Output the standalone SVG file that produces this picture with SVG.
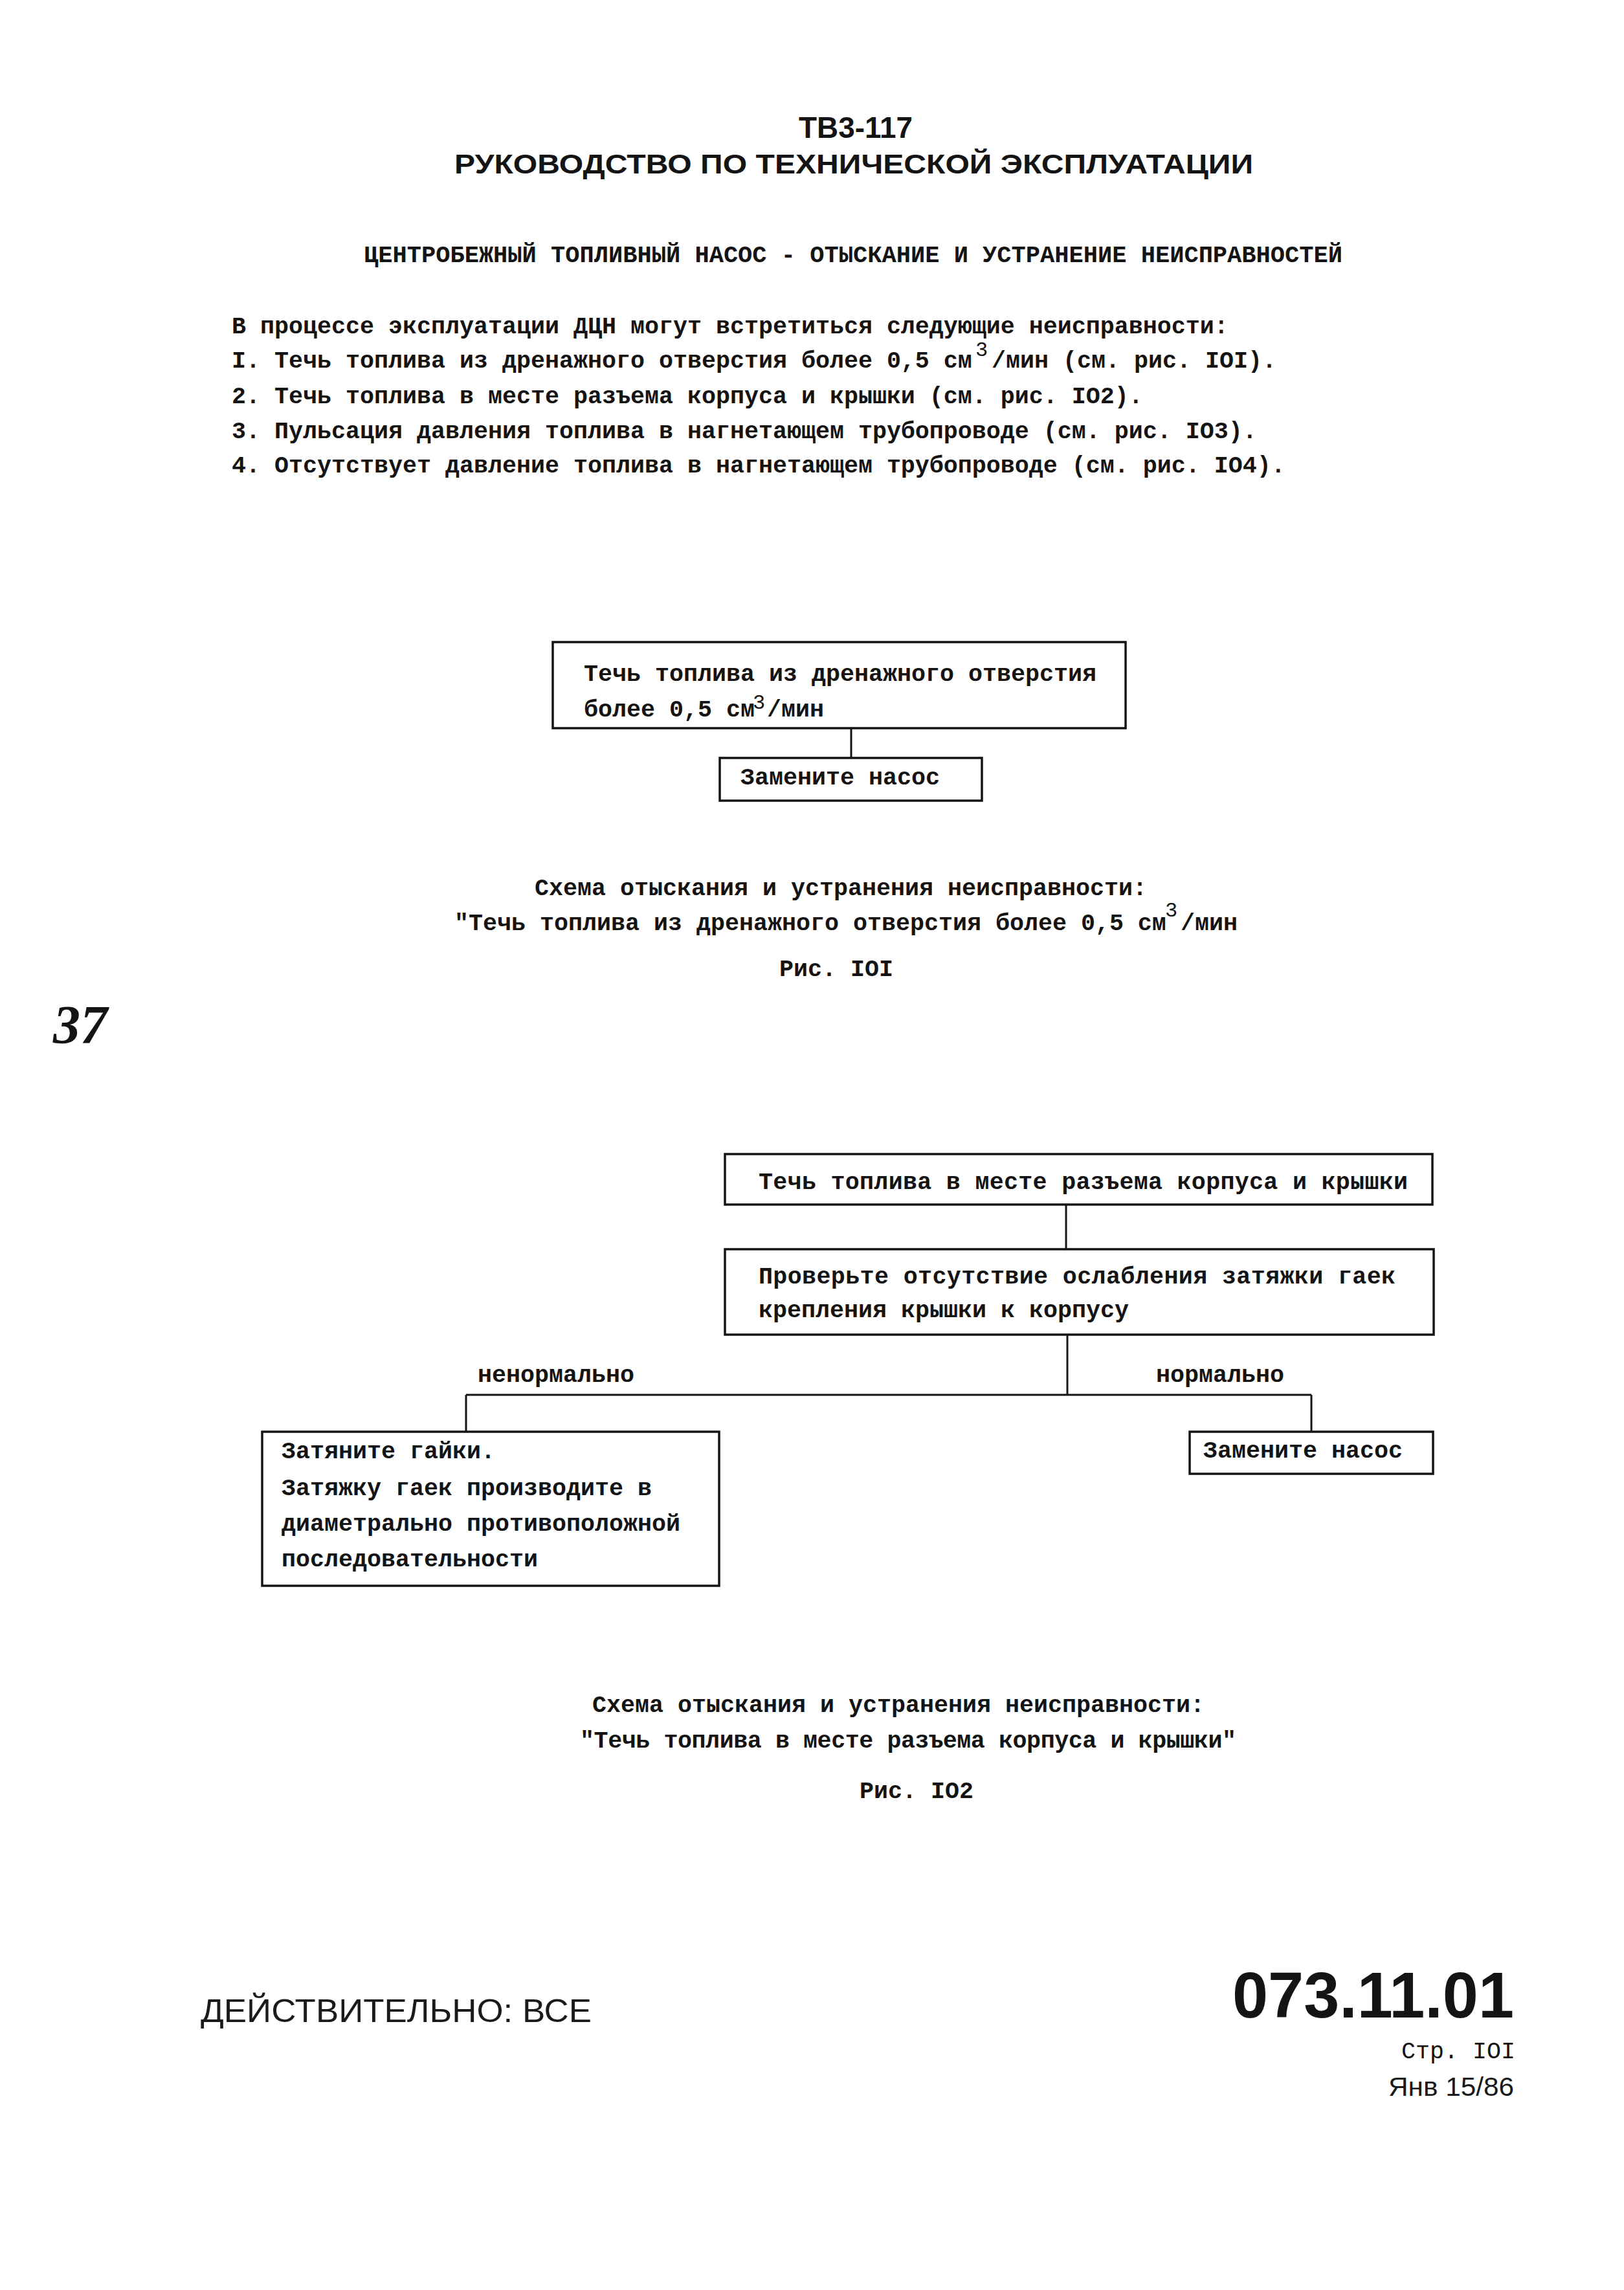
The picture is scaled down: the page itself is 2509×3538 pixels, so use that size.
<svg xmlns="http://www.w3.org/2000/svg" width="2509" height="3538" viewBox="0 0 2509 3538">
<style>
  .tw { font-family: "Liberation Mono", "DejaVu Sans Mono", monospace; font-weight: bold; font-size: 36.67px; fill: #141414; }
  .twn { font-family: "Liberation Mono", "DejaVu Sans Mono", monospace; font-weight: normal; font-size: 36.67px; fill: #141414; }
  .sup { font-family: "Liberation Mono", "DejaVu Sans Mono", monospace; font-size: 32px; fill: #141414; }
  .hd { font-family: "Liberation Sans", Arial, sans-serif; font-weight: bold; fill: #141414; }
  .ft { font-family: "Liberation Sans", Arial, sans-serif; fill: #1a1a1a; }
  .box { fill: none; stroke: #141414; stroke-width: 3.5; }
  .conn { fill: none; stroke: #141414; stroke-width: 3; }
</style>
<rect x="0" y="0" width="2509" height="3538" fill="#ffffff"/>

<!-- Header -->
<g id="header">
  <text class="hd" x="1234" y="213" font-size="46" textLength="176" lengthAdjust="spacingAndGlyphs">ТВ3-117</text>
  <text class="hd" x="702" y="268" font-size="42" textLength="1234" lengthAdjust="spacingAndGlyphs">РУКОВОДСТВО ПО ТЕХНИЧЕСКОЙ ЭКСПЛУАТАЦИИ</text>
  <text class="tw" x="562" y="405" textLength="1512" lengthAdjust="spacingAndGlyphs">ЦЕНТРОБЕЖНЫЙ ТОПЛИВНЫЙ НАСОС - ОТЫСКАНИЕ И УСТРАНЕНИЕ НЕИСПРАВНОСТЕЙ</text>
</g>

<!-- Intro list -->
<g id="intro">
  <text class="tw" x="358" y="515">В процессе эксплуатации ДЦН могут встретиться следующие неисправности:</text>
  <text class="tw" x="358" y="568">I. Течь топлива из дренажного отверстия более 0,5 см</text>
  <text class="sup" x="1507" y="550">3</text>
  <text class="tw" x="1532" y="568">/мин (см. рис. IOI).</text>
  <text class="tw" x="358" y="623">2. Течь топлива в месте разъема корпуса и крышки (см. рис. IO2).</text>
  <text class="tw" x="358" y="677">3. Пульсация давления топлива в нагнетающем трубопроводе (см. рис. IO3).</text>
  <text class="tw" x="358" y="730">4. Отсутствует давление топлива в нагнетающем трубопроводе (см. рис. IO4).</text>
</g>

<!-- Figure 101 -->
<g id="connectors-101">
  <line class="conn" x1="1315" y1="1125" x2="1315" y2="1171"/>
</g>
<g id="n101-leak">
  <rect class="box" x="854" y="992" width="885" height="133"/>
  <text class="tw" x="902" y="1052">Течь топлива из дренажного отверстия</text>
  <text class="tw" x="902" y="1107">более 0,5 см</text>
  <text class="sup" x="1163" y="1095">3</text>
  <text class="tw" x="1185" y="1107">/мин</text>
</g>
<g id="n101-replace">
  <rect class="box" x="1112" y="1171" width="405" height="66"/>
  <text class="tw" x="1144" y="1212">Замените насос</text>
</g>
<g id="caption-101">
  <text class="tw" x="826" y="1383">Схема отыскания и устранения неисправности:</text>
  <text class="tw" x="702" y="1437">"Течь топлива из дренажного отверстия более 0,5 см</text>
  <text class="sup" x="1800" y="1416">3</text>
  <text class="tw" x="1824" y="1437">/мин</text>
  <text class="tw" x="1204" y="1508">Рис. IOI</text>
</g>

<text x="82" y="1612" font-family="'Liberation Serif', serif" font-style="italic" font-weight="bold" font-size="84" fill="#141414">37</text>

<!-- Figure 102 -->
<g id="connectors-102">
  <line class="conn" x1="1647" y1="1861" x2="1647" y2="1930"/>
  <line class="conn" x1="1649" y1="2062" x2="1649" y2="2155"/>
  <line class="conn" x1="720" y1="2155" x2="2026" y2="2155"/>
  <line class="conn" x1="720" y1="2155" x2="720" y2="2212"/>
  <line class="conn" x1="2026" y1="2155" x2="2026" y2="2212"/>
  <text class="tw" x="738" y="2135">ненормально</text>
  <text class="tw" x="1786" y="2135">нормально</text>
</g>
<g id="n102-leak">
  <rect class="box" x="1120" y="1783" width="1093" height="78"/>
  <text class="tw" x="1172" y="1837" textLength="1003" lengthAdjust="spacing">Течь топлива в месте разъема корпуса и крышки</text>
</g>
<g id="n102-check">
  <rect class="box" x="1120" y="1930" width="1095" height="132"/>
  <text class="tw" x="1172" y="1983" textLength="984" lengthAdjust="spacing">Проверьте отсутствие ослабления затяжки гаек</text>
  <text class="tw" x="1172" y="2035">крепления крышки к корпусу</text>
</g>
<g id="n102-tighten">
  <rect class="box" x="405" y="2212" width="706" height="238"/>
  <text class="tw" x="435" y="2253">Затяните гайки.</text>
  <text class="tw" x="435" y="2310">Затяжку гаек производите в</text>
  <text class="tw" x="435" y="2365">диаметрально противоположной</text>
  <text class="tw" x="435" y="2420">последовательности</text>
</g>
<g id="n102-replace">
  <rect class="box" x="1838" y="2212" width="376" height="65"/>
  <text class="tw" x="1859" y="2252">Замените насос</text>
</g>
<g id="caption-102">
  <text class="tw" x="915" y="2645">Схема отыскания и устранения неисправности:</text>
  <text class="tw" x="896" y="2700" textLength="1014" lengthAdjust="spacing">"Течь топлива в месте разъема корпуса и крышки"</text>
  <text class="tw" x="1328" y="2778">Рис. IO2</text>
</g>

<!-- Footer -->
<g id="footer">
  <text class="ft" x="310" y="3124" font-size="50" textLength="604" lengthAdjust="spacingAndGlyphs">ДЕЙСТВИТЕЛЬНО: ВСЕ</text>
  <text class="hd" x="1904" y="3117" font-size="100" textLength="435" lengthAdjust="spacingAndGlyphs">073.11.01</text>
  <text class="twn" x="2165" y="3180">Стр. IOI</text>
  <text class="ft" x="2145" y="3238" font-size="40" textLength="194" lengthAdjust="spacingAndGlyphs">Янв 15/86</text>
</g>
</svg>
